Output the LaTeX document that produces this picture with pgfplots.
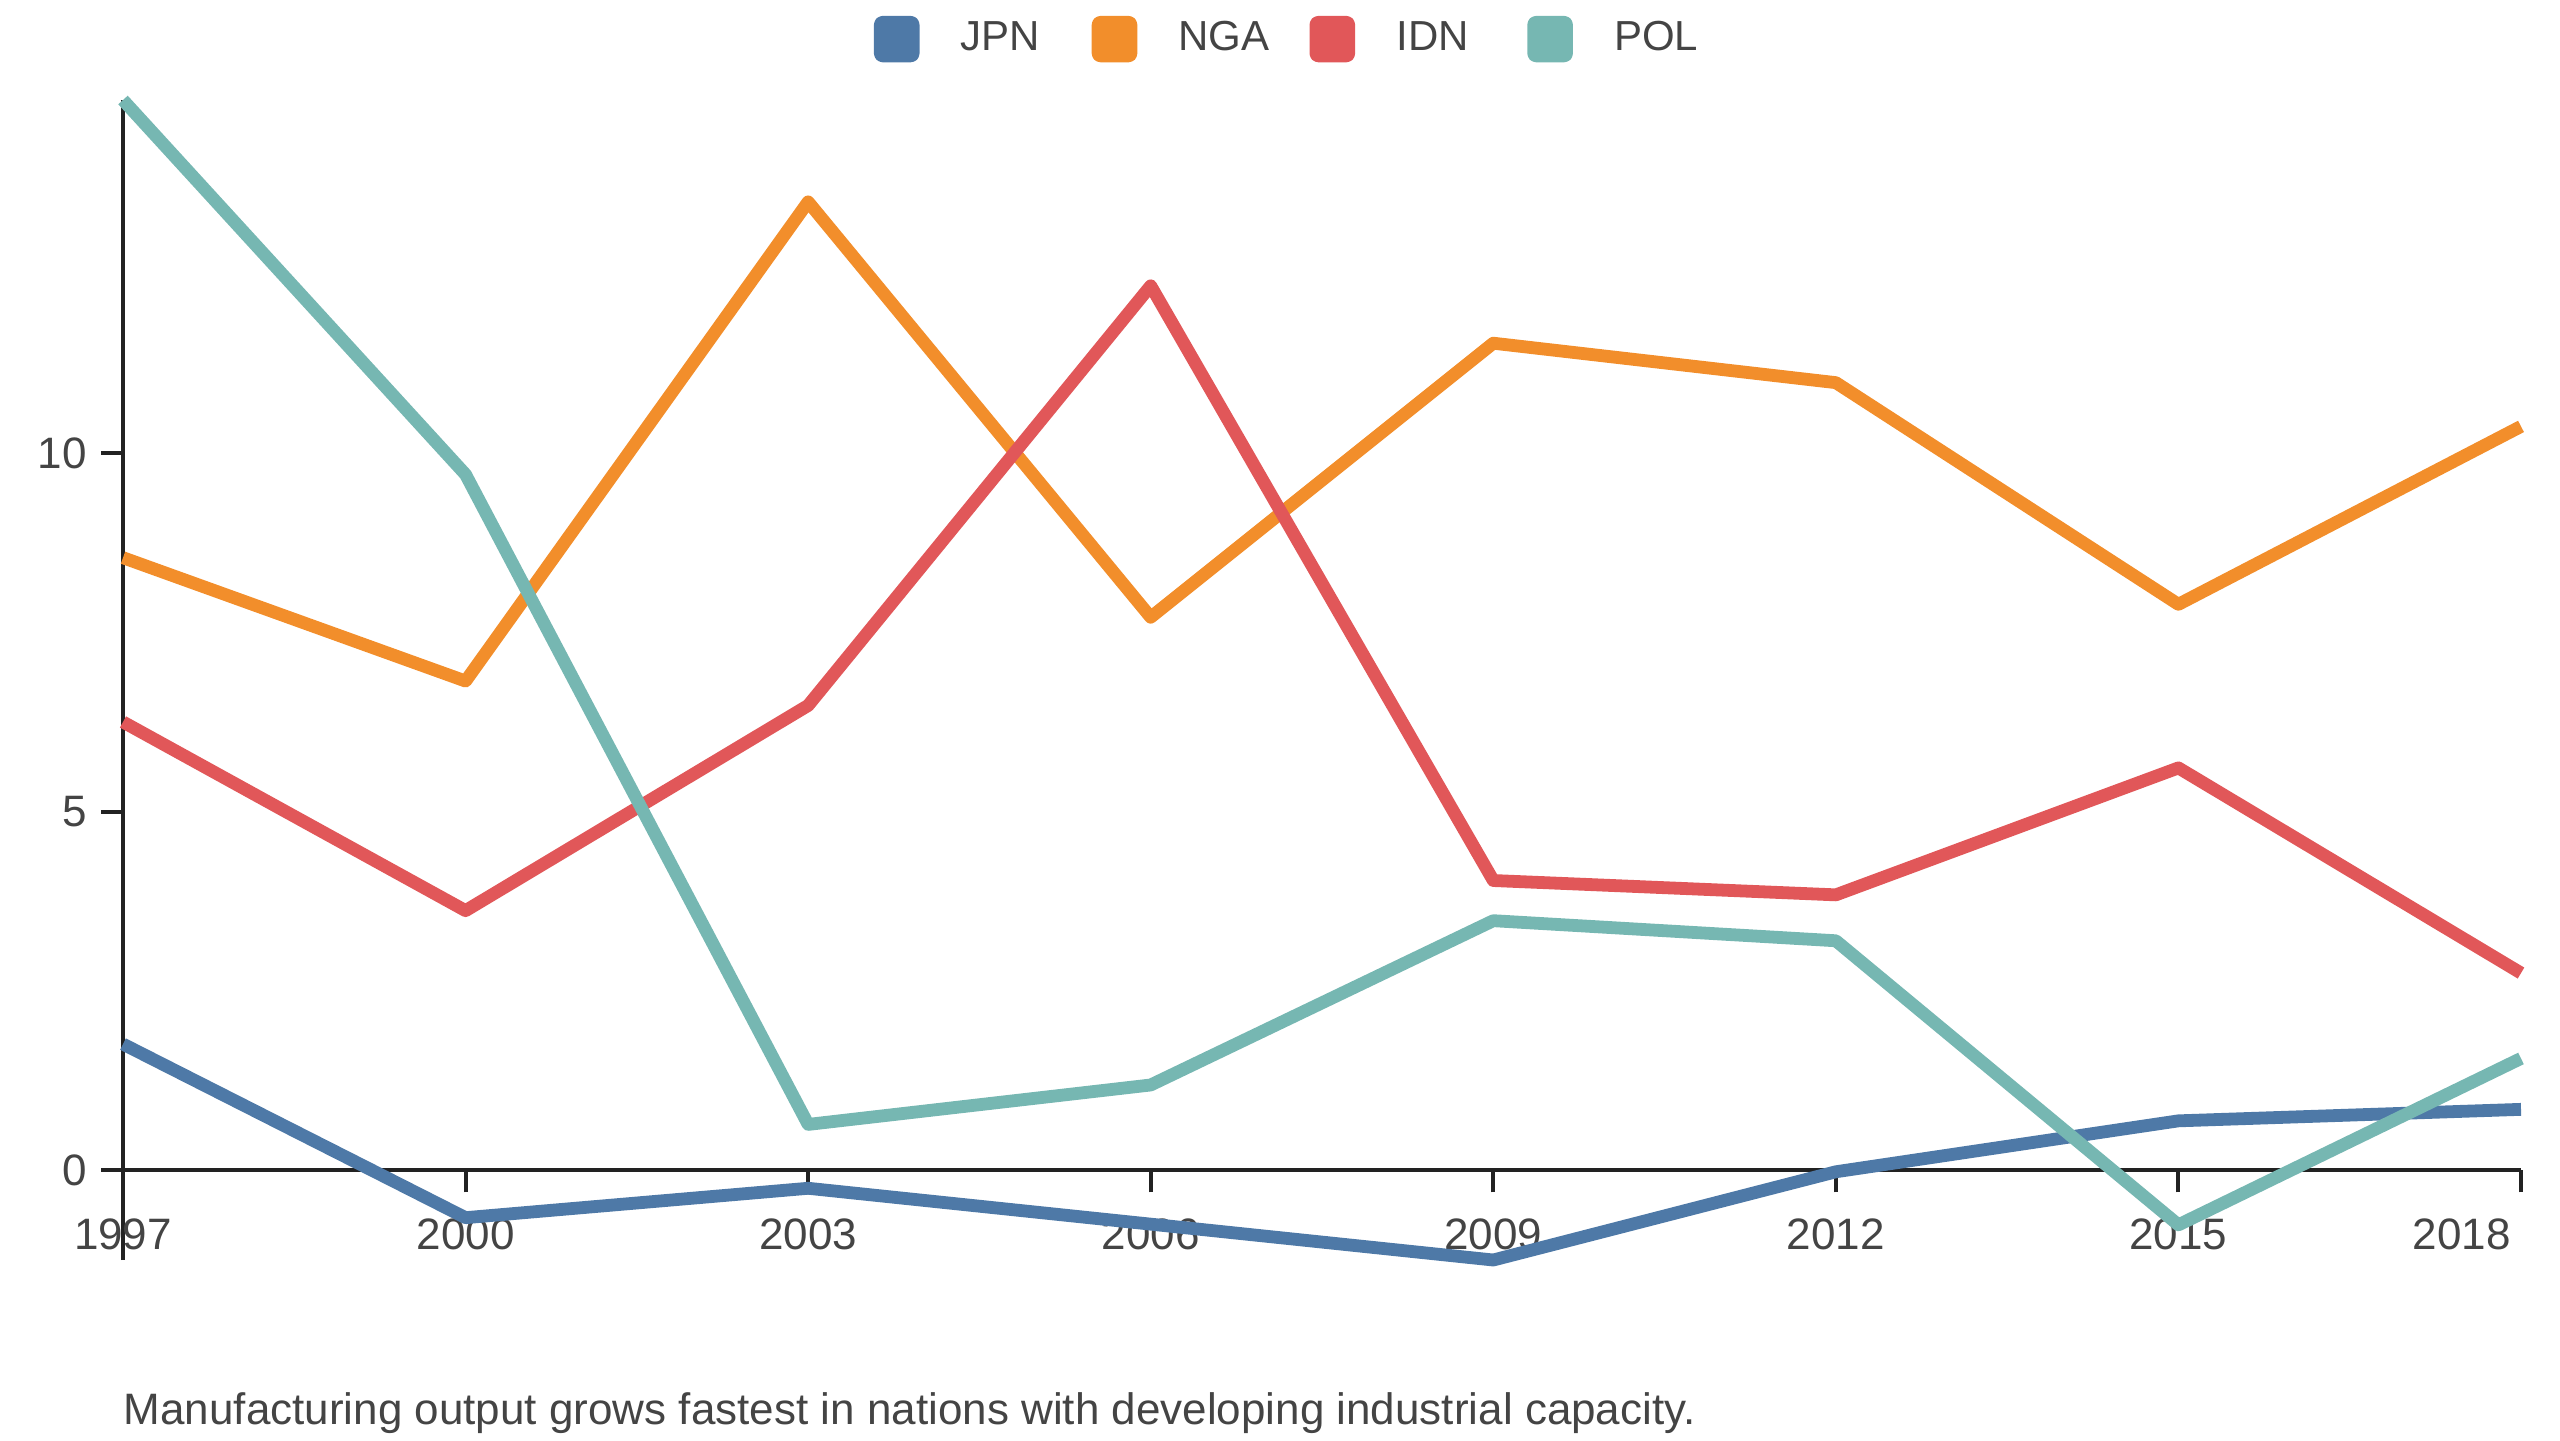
\documentclass[border=0pt]{standalone}
\usepackage{pgfplots}
\pgfplotsset{compat=1.18}
\usepackage{fontspec}
\setmainfont{Liberation Sans}
\definecolor{cJPN}{HTML}{4E79A7}
\definecolor{cNGA}{HTML}{F28E2B}
\definecolor{cIDN}{HTML}{E15759}
\definecolor{cPOL}{HTML}{76B7B2}
\definecolor{axc}{HTML}{222222}
\definecolor{txt}{HTML}{444444}
\begin{document}
\begin{tikzpicture}
\useasboundingbox (0,0) rectangle (640pt,360pt);
\begin{axis}[
  at={(30.75pt,45pt)}, anchor=south west,
  scale only axis, width=599.5pt, height=290pt,
  xmin=1997, xmax=2018, ymin=-1.25, ymax=14.92,
  axis x line*=middle, axis y line*=left,
  hide obscured x ticks=false,
  axis line style={axc, line width=1pt},
  xtick={1997,2000,2003,2006,2009,2012,2015},
  extra x ticks={2018},
  extra x tick style={xticklabel style={anchor=north east, xshift=1pt}},
  ytick={0,5,10},
  xticklabel style={/pgf/number format/1000 sep={}, font=\fontsize{11}{13}\selectfont, text=txt, yshift=-3pt},
  yticklabel style={font=\fontsize{11}{13}\selectfont, text=txt},
  /pgf/number format/assume math mode=true,
  tick align=outside, major tick length=5.5pt,
  tick style={axc, line width=1pt},
  clip=false,
  legend columns=-1,
  legend style={draw=none, fill=none, at={(0.4875,1.0525)}, anchor=center,
    font=\fontsize{10.5}{12}\selectfont, text=txt,
    nodes={text width=22pt, align=left},
    /tikz/every odd column/.append style={column sep=8.3pt},
    /tikz/every even column/.append style={column sep=8.75pt}},
  legend image code/.code={\fill[#1, rounded corners=0.6pt] (0pt,-4.2pt) rectangle (8.2pt,4.2pt);},
  every axis plot/.append style={line width=3.2pt, line join=round},
]
\addplot[cJPN] coordinates {(1997,1.76)(2000,-0.66)(2003,-0.25)(2006,-0.75)(2009,-1.25)(2012,-0.02)(2015,0.69)(2018,0.85)};
\addlegendentry{JPN}
\addplot[cNGA] coordinates {(1997,8.54)(2000,6.82)(2003,13.5)(2006,7.71)(2009,11.53)(2012,10.98)(2015,7.89)(2018,10.37)};
\addlegendentry{NGA}
\addplot[cIDN] coordinates {(1997,6.25)(2000,3.62)(2003,6.48)(2006,12.33)(2009,4.04)(2012,3.84)(2015,5.61)(2018,2.75)};
\addlegendentry{IDN}
\addplot[cPOL] coordinates {(1997,14.92)(2000,9.70)(2003,0.64)(2006,1.19)(2009,3.48)(2012,3.20)(2015,-0.76)(2018,1.56)};
\addlegendentry{POL}
\end{axis}
\node[anchor=base west, font=\fontsize{11}{13}\selectfont, text=txt, inner sep=0pt] at (30.75pt,4pt) {Manufacturing output grows fastest in nations with developing industrial capacity.};
\end{tikzpicture}
\end{document}
